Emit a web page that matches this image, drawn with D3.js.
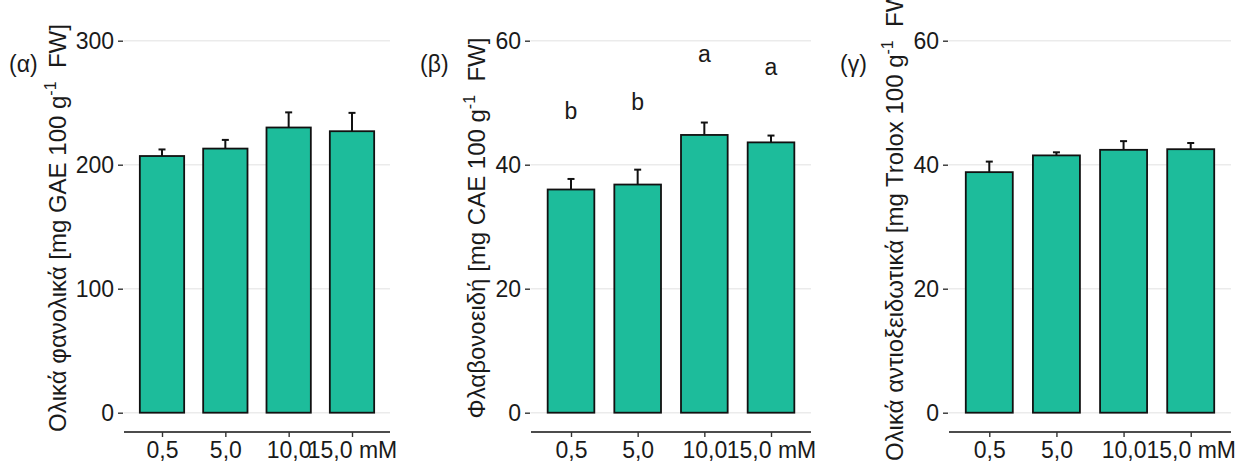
<!DOCTYPE html>
<html>
<head>
<meta charset="utf-8">
<script src="https://cdn.jsdelivr.net/npm/d3@7"></script>
<style>
  body { margin: 0; background: #fff; }
  text { font-family: "Liberation Sans", Arial, sans-serif; fill: #1a1a1a; }
</style>
</head>
<body>
<script>
'use strict';

var doses = ["0,5", "5,0", "10,0", "15,0 mM"];

var phenolsMean = [207, 213, 230, 227];
var phenolsSe = [5.3, 7, 12.2, 14.8];

var flavMean = [36.0, 36.8, 44.8, 43.6];
var flavSe = [1.7, 2.4, 2.0, 1.1];
var flavLetters = ["b", "b", "a", "a"];

var antioxMean = [38.8, 41.5, 42.4, 42.5];
var antioxSe = [1.7, 0.5, 1.4, 1.0];

var phenolsTicks = [0, 100, 200, 300];
var flavTicks = [0, 20, 40, 60];
var antioxTicks = [0, 20, 40, 60];

var w = 1237,
    h = 461,
    yTop = 40.7,
    yBottom = 412.7,
    axisY = 432,
    fill = "#1dbc9b",
    tickFont = 23,
    titleFont = 24;

var svg = d3.select("body").append("svg")
    .attr("width", w)
    .attr("height", h);

function panel(o) {
    var g = svg.append("g");

    var x = d3.scalePoint()
        .domain(o.cats)
        .range([o.left, o.right])
        .padding(0.6);
    var step = x.step(),
        bw = step * 0.7;

    var y = d3.scaleLinear()
        .domain([0, d3.max(o.ticks)])
        .range([yBottom, yTop]);

    var rows = o.cats.map(function (c, i) {
        return { cat: c, mean: o.mean[i], se: o.se[i], letter: o.letters ? o.letters[i] : null };
    });

    // grid
    g.selectAll("line.grid")
        .data(o.ticks)
        .enter().append("line")
        .attr("x1", o.left - 0.5)
        .attr("x2", o.right)
        .attr("y1", function (d) { return y(d); })
        .attr("y2", function (d) { return y(d); })
        .attr("stroke", "#ebebeb")
        .attr("stroke-width", 1.6);

    var yAxis = g.append("g")
        .attr("transform", "translate(" + (o.left - 1) + ",0)")
        .call(d3.axisLeft(y).tickValues(o.ticks).tickSize(5).tickPadding(4));
    yAxis.select(".domain").remove();
    yAxis.selectAll(".tick line").attr("stroke", "#333").attr("stroke-width", 1.4);
    yAxis.selectAll(".tick text")
        .attr("font-size", tickFont)
        .attr("fill", "#1a1a1a")
        .attr("dy", "0.35em");

    var xAxis = g.append("g")
        .attr("transform", "translate(0," + axisY + ")")
        .call(d3.axisBottom(x).tickSize(5).tickPadding(5).tickSizeOuter(0));
    xAxis.select(".domain")
        .attr("d", "M" + o.left + ",0H" + o.right)
        .attr("stroke", "#111")
        .attr("stroke-width", 1.4);
    xAxis.selectAll(".tick line").attr("stroke", "#333").attr("stroke-width", 1.4);
    xAxis.selectAll(".tick text")
        .attr("font-size", tickFont)
        .attr("fill", "#1a1a1a");

    // error bars
    var eb = g.selectAll("g.err")
        .data(rows)
        .enter().append("g")
        .attr("stroke", "#111")
        .attr("stroke-width", 2);
    eb.append("line")
        .attr("x1", function (d) { return x(d.cat); })
        .attr("x2", function (d) { return x(d.cat); })
        .attr("y1", function (d) { return y(d.mean); })
        .attr("y2", function (d) { return y(d.mean + d.se); });
    eb.append("line")
        .attr("x1", function (d) { return x(d.cat) - 3.5; })
        .attr("x2", function (d) { return x(d.cat) + 3.5; })
        .attr("y1", function (d) { return y(d.mean + d.se); })
        .attr("y2", function (d) { return y(d.mean + d.se); });

    g.selectAll("rect.bar")
        .data(rows)
        .enter().append("rect")
        .attr("x", function (d) { return x(d.cat) - bw / 2; })
        .attr("width", bw)
        .attr("y", function (d) { return y(d.mean); })
        .attr("height", function (d) { return y(0) - y(d.mean); })
        .attr("fill", fill)
        .attr("stroke", "#111")
        .attr("stroke-width", 1.8);

    if (o.letters) {
        g.selectAll("text.letter")
            .data(rows)
            .enter().append("text")
            .attr("x", function (d) { return x(d.cat); })
            .attr("y", function (d) { return y(d.mean + d.se + 11); })
            .attr("dy", "0.35em")
            .attr("text-anchor", "middle")
            .attr("font-size", tickFont)
            .text(function (d) { return d.letter; });
    }

    var lb = yAxis.node().getBBox();
    var tx = o.left - 1 + lb.x - 10;
    var t = g.append("text")
        .attr("transform", "translate(" + tx + "," + o.titleY + ")rotate(-90)")
        .attr("text-anchor", "middle")
        .attr("font-size", titleFont);
    t.append("tspan").text(o.title[0]);
    t.append("tspan").attr("font-size", 16).attr("dy", -10).text("-1");
    t.append("tspan").attr("dy", 10).text("\u00a0\u00a0" + o.title[1]);

    svg.append("text")
        .attr("x", o.tagX)
        .attr("y", 64)
        .attr("dy", "0.35em")
        .attr("font-size", tickFont)
        .text(o.tag);
}

panel({
    cats: doses, mean: phenolsMean, se: phenolsSe, ticks: phenolsTicks,
    left: 124, right: 390, titleY: 228, tagX: 9, tag: "(α)",
    title: ["Ολικά φανολικά [mg GAE 100 g", "FW]"]
});

panel({
    cats: doses, mean: flavMean, se: flavSe, ticks: flavTicks, letters: flavLetters,
    left: 531, right: 811, titleY: 228, tagX: 420, tag: "(β)",
    title: ["Φλαβονοειδή [mg CAE 100 g", "FW]"]
});

panel({
    cats: doses, mean: antioxMean, se: antioxSe, ticks: antioxTicks,
    left: 949, right: 1231, titleY: 222, tagX: 840, tag: "(γ)",
    title: ["Ολικά αντιοξειδωτικά [mg Trolox 100 g", "FW]"]
});
</script>
</body>
</html>
